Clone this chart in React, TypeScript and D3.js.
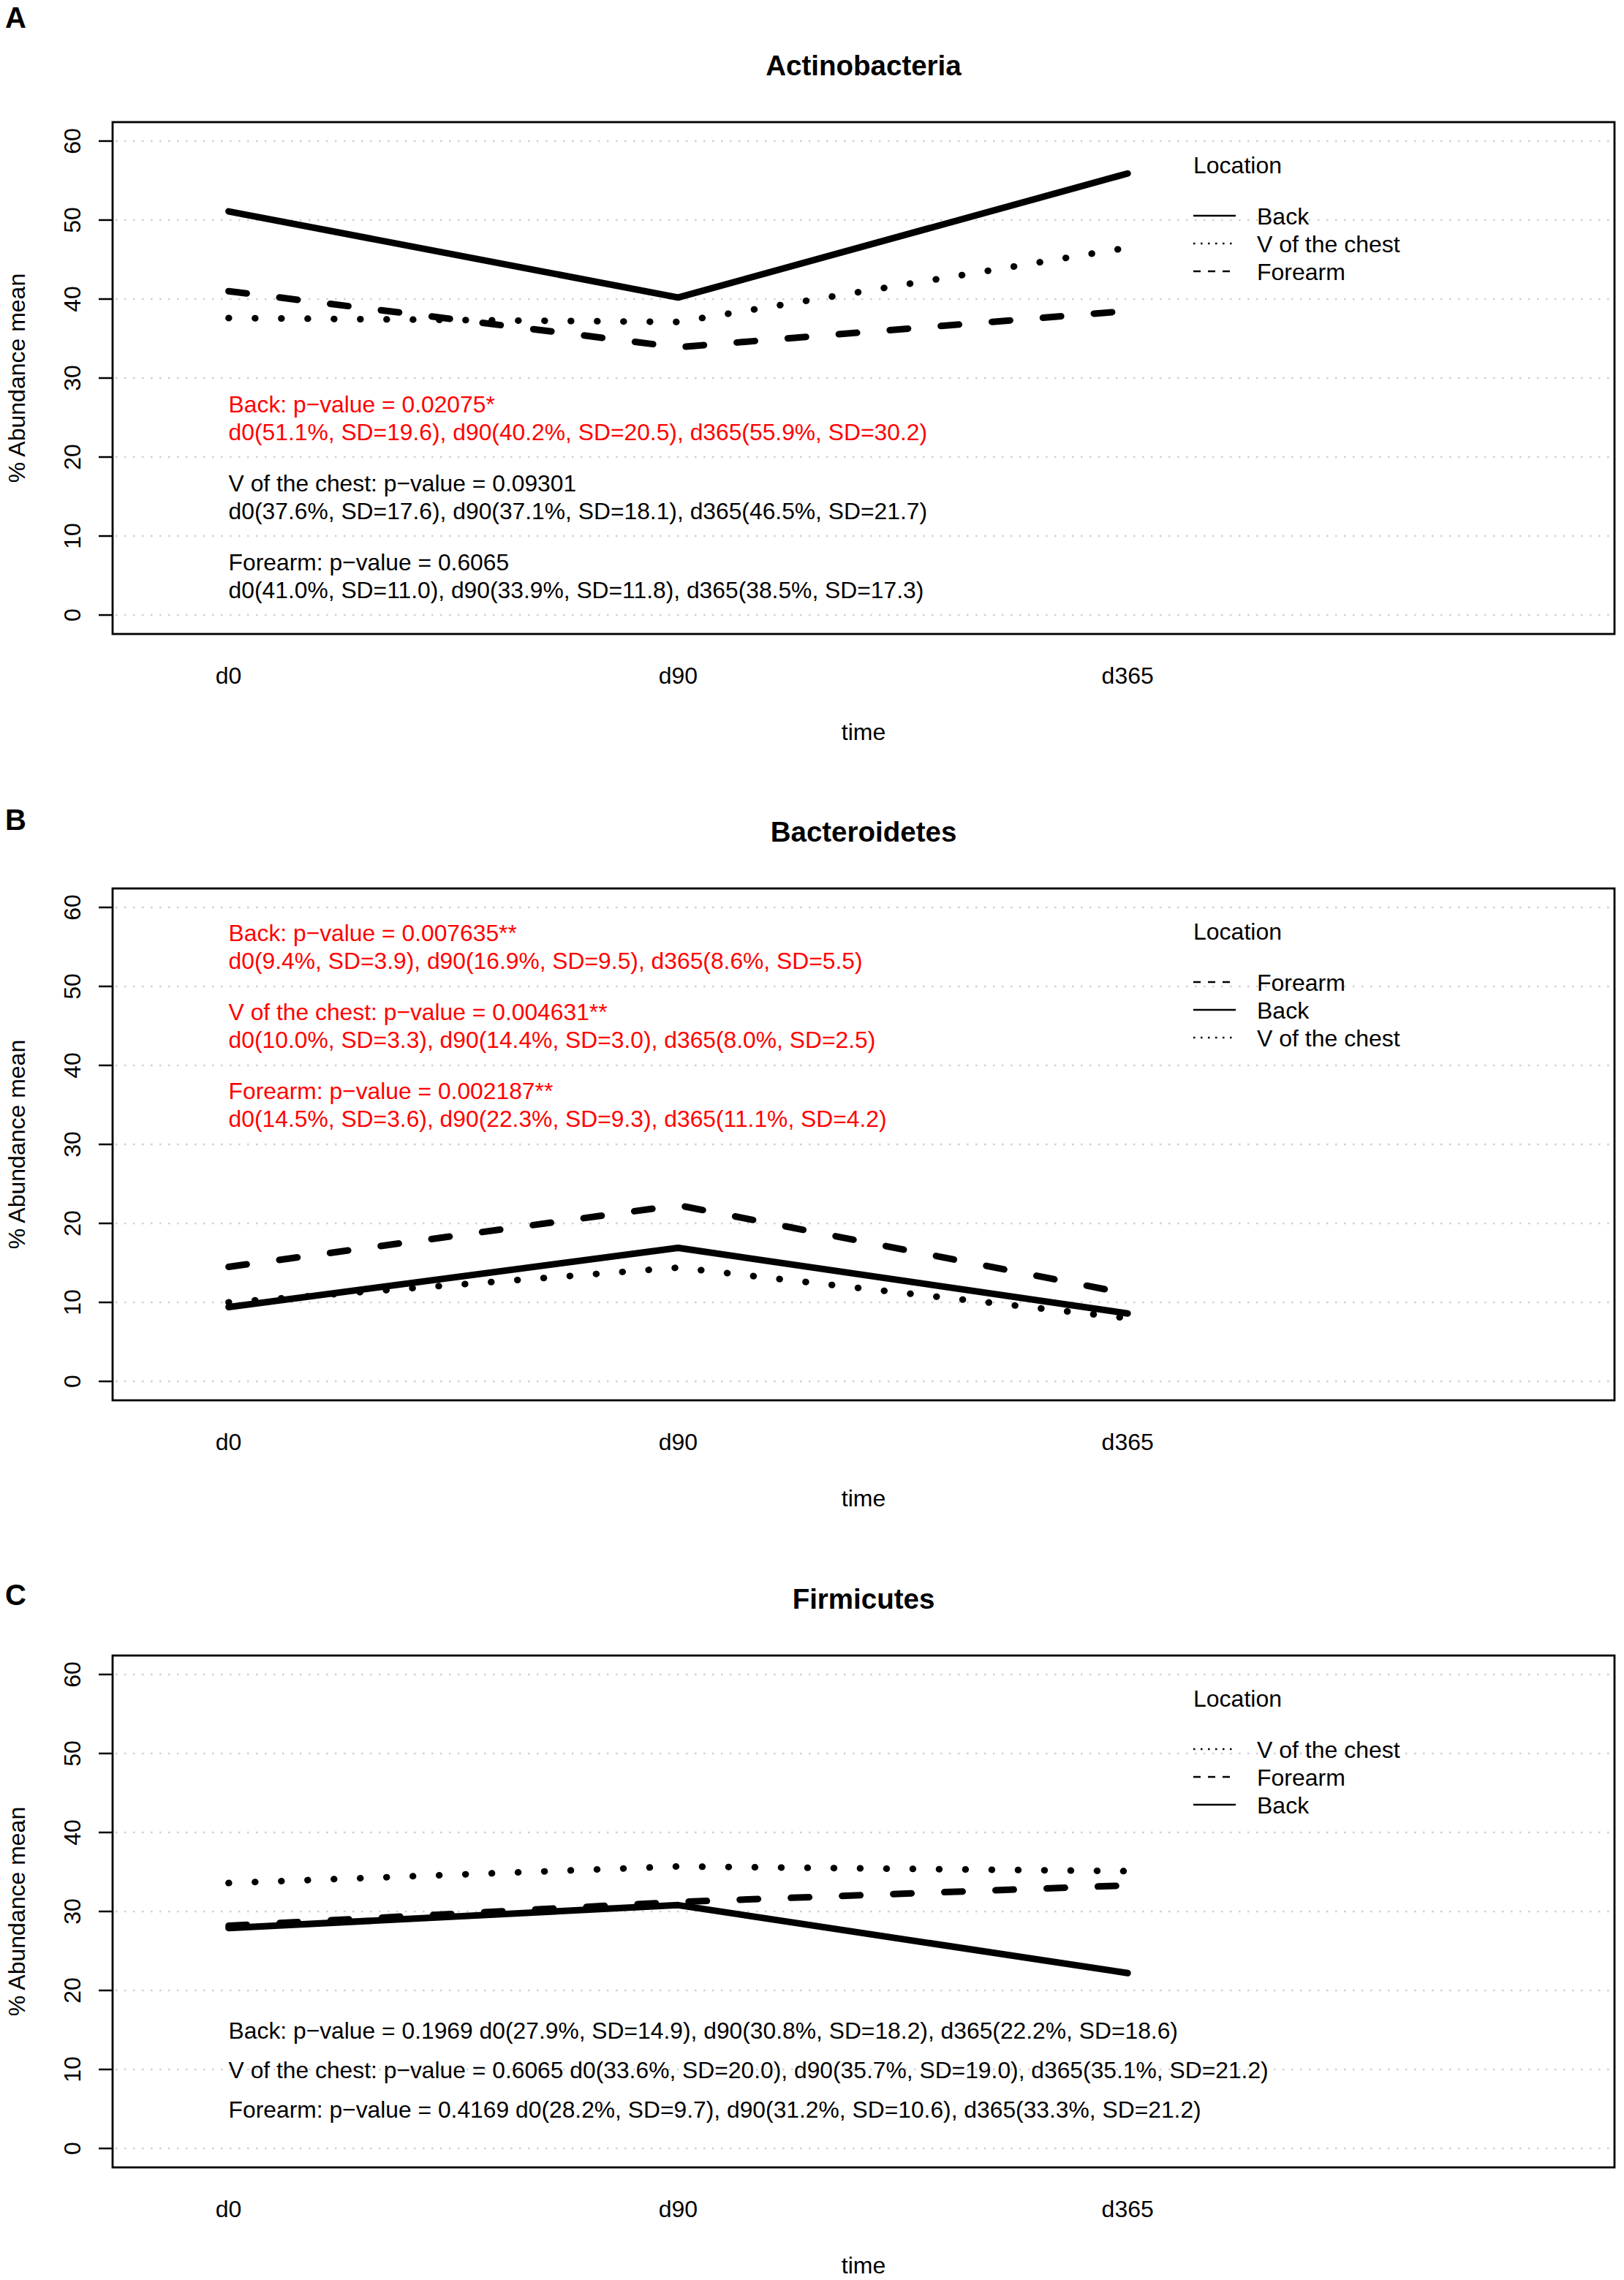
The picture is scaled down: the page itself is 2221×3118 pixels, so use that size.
import React, { useEffect, useRef } from 'react';
import * as d3 from 'd3';

const WIDTH = 2221;
const HEIGHT = 3118;

const timePoints = ['d0', 'd90', 'd365'];
const yTicks = [0, 10, 20, 30, 40, 50, 60];
const locations = ['Back', 'V of the chest', 'Forearm'];

const panelLetters = ['A', 'B', 'C'];
const panelTitles = ['Actinobacteria', 'Bacteroidetes', 'Firmicutes'];

// mean % abundance at d0 / d90 / d365
const actinoBack = [51.1, 40.2, 55.9];
const actinoChest = [37.6, 37.1, 46.5];
const actinoForearm = [41.0, 33.9, 38.5];
const bacteroBack = [9.4, 16.9, 8.6];
const bacteroChest = [10.0, 14.4, 8.0];
const bacteroForearm = [14.5, 22.3, 11.1];
const firmiBack = [27.9, 30.8, 22.2];
const firmiChest = [33.6, 35.7, 35.1];
const firmiForearm = [28.2, 31.2, 33.3];

// standard deviations at d0 / d90 / d365
const actinoBackSD = [19.6, 20.5, 30.2];
const actinoChestSD = [17.6, 18.1, 21.7];
const actinoForearmSD = [11.0, 11.8, 17.3];
const bacteroBackSD = [3.9, 9.5, 5.5];
const bacteroChestSD = [3.3, 3.0, 2.5];
const bacteroForearmSD = [3.6, 9.3, 4.2];
const firmiBackSD = [14.9, 18.2, 18.6];
const firmiChestSD = [20.0, 19.0, 21.2];
const firmiForearmSD = [9.7, 10.6, 21.2];

// p-values as printed (Back, V of the chest, Forearm)
const actinoP = ['0.02075*', '0.09301', '0.6065'];
const bacteroP = ['0.007635**', '0.004631**', '0.002187**'];
const firmiP = ['0.1969', '0.6065', '0.4169'];

// y value (data units) where each note is centred
const actinoNoteY = [25, 15, 5];
const bacteroNoteY = [55, 45, 35];
const firmiNoteY = [15, 10, 5];

// legend order in each panel
const actinoLegend = ['Back', 'V of the chest', 'Forearm'];
const bacteroLegend = ['Forearm', 'Back', 'V of the chest'];
const firmiLegend = ['V of the chest', 'Forearm', 'Back'];

const panels = [
  {
    means: [actinoBack, actinoChest, actinoForearm],
    sds: [actinoBackSD, actinoChestSD, actinoForearmSD],
    p: actinoP, noteY: actinoNoteY, legend: actinoLegend, twoLine: true,
  },
  {
    means: [bacteroBack, bacteroChest, bacteroForearm],
    sds: [bacteroBackSD, bacteroChestSD, bacteroForearmSD],
    p: bacteroP, noteY: bacteroNoteY, legend: bacteroLegend, twoLine: true,
  },
  {
    means: [firmiBack, firmiChest, firmiForearm],
    sds: [firmiBackSD, firmiChestSD, firmiForearmSD],
    p: firmiP, noteY: firmiNoteY, legend: firmiLegend, twoLine: false,
  },
];

// layout (px)
const panelOffset = [0, 1048, 2097];
const letterBaseline = [38, 1135, 2195];
const box = { left: 154, right: 2208, top: 167, bottom: 867 };
const FONT = '"Liberation Sans", Arial, Helvetica, sans-serif';
const FS = 32;
const NOTE_FS = 31.8;

const lineStyle: Record<string, { dash: string | null; legendDash: string | null }> = {
  'Back': { dash: null, legendDash: null },
  'V of the chest': { dash: '0.5 35.5', legendDash: '2.5 7.5' },
  'Forearm': { dash: '25 45', legendDash: '10 10' },
};

const App: React.FC = () => {
  const svgRef = useRef<SVGSVGElement>(null);

  useEffect(() => {
    if (!svgRef.current) return;
    const svg = d3.select(svgRef.current);
    svg.selectAll('*').remove();

    svg.append('rect').attr('width', WIDTH).attr('height', HEIGHT).attr('fill', '#fff');

    const x = d3.scaleLinear().domain([0.742, 4.083]).range([box.left, box.right]);
    const y = d3.scaleLinear().domain([-2.4, 62.4]).range([box.bottom, box.top]);
    const line = d3.line<number>().x((_d, i) => x(i + 1)).y(d => y(d));

    // panel letters
    svg.selectAll('.letter')
      .data(panelLetters)
      .enter().append('text')
      .attr('x', 7)
      .attr('y', (_d, i) => letterBaseline[i])
      .style('font-family', FONT)
      .style('font-size', '40px')
      .style('font-weight', 'bold')
      .text(d => d);

    panels.forEach((p, pi) => {
      const g = svg.append('g').attr('transform', `translate(0, ${panelOffset[pi]})`);

      // dotted grid
      g.selectAll('.grid')
        .data(yTicks)
        .enter().append('line')
        .attr('x1', box.left + 4)
        .attr('x2', box.right)
        .attr('y1', d => y(d))
        .attr('y2', d => y(d))
        .attr('stroke', '#cfcfcf')
        .attr('stroke-width', 2.5)
        .attr('stroke-dasharray', '2.5 9.5');

      // series
      p.means.forEach((vals, si) => {
        const st = lineStyle[locations[si]];
        g.append('path')
          .attr('d', line(vals) || '')
          .attr('fill', 'none')
          .attr('stroke', '#000')
          .attr('stroke-width', 9)
          .attr('stroke-linecap', 'round')
          .attr('stroke-linejoin', 'round')
          .attr('stroke-dasharray', st.dash);
      });

      // frame
      g.append('rect')
        .attr('x', box.left)
        .attr('y', box.top)
        .attr('width', box.right - box.left)
        .attr('height', box.bottom - box.top)
        .attr('fill', 'none')
        .attr('stroke', '#000')
        .attr('stroke-width', 2.8);

      // y axis
      g.selectAll('.ytick')
        .data(yTicks)
        .enter().append('line')
        .attr('x1', 135)
        .attr('x2', box.left)
        .attr('y1', d => y(d))
        .attr('y2', d => y(d))
        .attr('stroke', '#000')
        .attr('stroke-width', 2.5);

      g.selectAll('.ylab')
        .data(yTicks)
        .enter().append('text')
        .attr('transform', d => `translate(110, ${y(d)}) rotate(-90)`)
        .attr('text-anchor', 'middle')
        .style('font-family', FONT)
        .style('font-size', `${FS}px`)
        .text(d => d);

      g.append('text')
        .attr('transform', `translate(34, ${(box.top + box.bottom) / 2}) rotate(-90)`)
        .attr('text-anchor', 'middle')
        .style('font-family', FONT)
        .style('font-size', `${FS}px`)
        .text('% Abundance mean');

      // x labels
      g.selectAll('.xlab')
        .data(timePoints)
        .enter().append('text')
        .attr('x', (_d, i) => x(i + 1))
        .attr('y', 935)
        .attr('text-anchor', 'middle')
        .style('font-family', FONT)
        .style('font-size', `${FS}px`)
        .text(d => d);

      g.append('text')
        .attr('x', (box.left + box.right) / 2)
        .attr('y', 1012)
        .attr('text-anchor', 'middle')
        .style('font-family', FONT)
        .style('font-size', `${FS}px`)
        .text('time');

      // title
      g.append('text')
        .attr('x', (box.left + box.right) / 2)
        .attr('y', 103)
        .attr('text-anchor', 'middle')
        .style('font-family', FONT)
        .style('font-size', '38.5px')
        .style('font-weight', 'bold')
        .text(panelTitles[pi]);

      // notes
      p.means.forEach((vals, si) => {
        const head = `${locations[si]}: p\u2212value = ${p.p[si]}`;
        const stats = vals
          .map((v, ti) => `${timePoints[ti]}(${v.toFixed(1)}%, SD=${p.sds[si][ti].toFixed(1)})`)
          .join(', ');
        const color = p.p[si].includes('*') ? '#ff0000' : '#000';
        const cy = y(p.noteY[si]);
        const lines = p.twoLine ? [head, stats] : [`${head} ${stats}`];
        const lh = 38;
        lines.forEach((txt, li) => {
          g.append('text')
            .attr('x', x(1))
            .attr('y', cy + (li - (lines.length - 1) / 2) * lh + 11.5)
            .attr('fill', color)
            .style('font-family', FONT)
            .style('font-size', `${NOTE_FS}px`)
            .text(txt);
        });
      });

      // legend
      const lg = g.append('g');
      lg.append('text')
        .attr('x', 1632)
        .attr('y', 237)
        .style('font-family', FONT)
        .style('font-size', `${FS}px`)
        .text('Location');
      p.legend.forEach((name, li) => {
        const cy = 295 + li * 38;
        lg.append('line')
          .attr('x1', 1632)
          .attr('x2', 1690)
          .attr('y1', cy)
          .attr('y2', cy)
          .attr('stroke', '#000')
          .attr('stroke-width', 2.5)
          .attr('stroke-dasharray', lineStyle[name].legendDash);
        lg.append('text')
          .attr('x', 1719)
          .attr('y', cy + 11.5)
          .style('font-family', FONT)
          .style('font-size', `${FS}px`)
          .text(name);
      });
    });
  }, []);

  return (
    <svg
      ref={svgRef}
      width={WIDTH}
      height={HEIGHT}
      style={{ position: 'absolute', left: 0, top: 0, display: 'block' }}
    />
  );
};

export default App;
